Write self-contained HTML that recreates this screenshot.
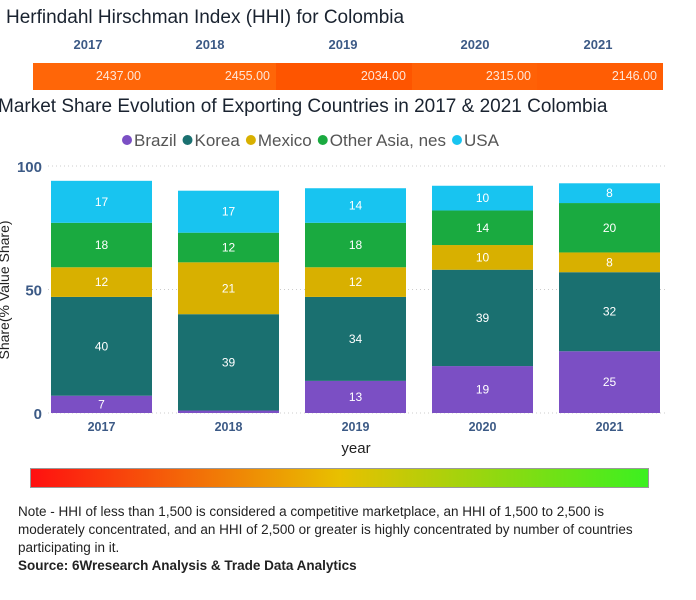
<!DOCTYPE html>
<html><head><meta charset="utf-8"><style>
body{margin:0;width:696px;height:600px;background:#fff;font-family:"Liberation Sans",sans-serif;overflow:hidden;position:relative}
.abs{position:absolute}
.yr{position:absolute;top:37px;font-size:13px;font-weight:bold;color:#3c5a86;transform:translateX(-50%)}
.seg{position:absolute;top:63px;height:27px;color:#fde6d8;font-size:12.5px;line-height:27px;text-align:right;box-sizing:border-box;padding-right:6px}
.note{left:18px;top:503px;width:650px;font-size:13.5px;line-height:18px;color:#222}
</style></head><body>
<div class="abs" style="left:6px;top:7px;font-size:19px;color:#1a2330">Herfindahl Hirschman Index (HHI) for Colombia</div>
<div class="yr" style="left:88px">2017</div>
<div class="yr" style="left:210px">2018</div>
<div class="yr" style="left:343px">2019</div>
<div class="yr" style="left:475px">2020</div>
<div class="yr" style="left:598px">2021</div>
<div class="seg" style="left:33px;width:114px;background:#ff6608">2437.00</div>
<div class="seg" style="left:147px;width:129px;background:#ff6608">2455.00</div>
<div class="seg" style="left:276px;width:136px;background:#fe5500">2034.00</div>
<div class="seg" style="left:412px;width:125px;background:#ff6106">2315.00</div>
<div class="seg" style="left:537px;width:126px;background:#ff5d04">2146.00</div>
<div class="abs" style="left:-2px;top:96px;font-size:19px;color:#1a2330">Market Share Evolution of Exporting Countries in 2017 &amp; 2021 Colombia</div>
<svg class="abs" style="left:0;top:0" width="696" height="460" id="chart"></svg>
<div class="abs" style="left:30px;top:468px;width:619px;height:20px;border:1px solid #999;box-sizing:border-box;background:linear-gradient(to right,#ff1010,#e8c000 50%,#3cf020)"></div>
<div class="abs note">Note - HHI of less than 1,500 is considered a competitive marketplace, an HHI of 1,500 to 2,500 is moderately concentrated, and an HHI of 2,500 or greater is highly concentrated by number of countries participating in it.<br><b>Source: 6Wresearch Analysis &amp; Trade Data Analytics</b></div>
<script>
const years=["2017","2018","2019","2020","2021"];
const seriesNames=["Brazil","Korea","Mexico","Other Asia, nes","USA"];
const brazil=[7,1,13,19,25];
const korea=[40,39,34,39,32];
const mexico=[12,21,12,10,8];
const otherAsia=[18,12,18,14,20];
const usa=[17,17,14,10,8];
const yTicks=[0,50,100];
const colors=["#7b4fc4","#1a7070","#d8b000","#1aaa40","#18c4f0"];
const series=[brazil,korea,mexico,otherAsia,usa];
const NS="http://www.w3.org/2000/svg";
const svg=document.getElementById('chart');
const y0=413,y1=166,xL=40,step=127,bw=101,x0=51;
const ys=v=>y0-(y0-y1)*v/100;
const xs=i=>x0+i*step;
function mk(t,a,txt){const e=document.createElementNS(NS,t);for(const k in a)e.setAttribute(k,a[k]);if(txt!=null)e.textContent=txt;svg.appendChild(e);return e;}
yTicks.forEach(t=>{
 const g=mk('line',{x1:xL+8,x2:665,y1:ys(t),y2:ys(t),stroke:'#ccc','stroke-dasharray':'1,3'});
 
 
 const l=mk('text',{x:42,y:ys(t)+6,'text-anchor':'end','font-size':15,'font-weight':'bold',fill:'#3c5a86'},t);
 
 
});
years.forEach((yr,i)=>{
 let c=0;
 series.forEach((s,j)=>{
  const v=s[i];
  const r=mk('rect',{x:xs(i),y:ys(c+v),width:bw,height:ys(c)-ys(c+v),fill:colors[j]});
  
  
  if(v>=5){const t=mk('text',{x:xs(i)+bw/2,y:(ys(c)+ys(c+v))/2+4,'text-anchor':'middle','font-size':12,fill:'#fff'},v);
   
   }
  c+=v;
 });
 const xl=mk('text',{x:xs(i)+bw/2,y:431,'text-anchor':'middle','font-size':12.5,'font-weight':'bold',fill:'#3c5a86'},yr);
 
 
});
const xt=mk('text',{x:356,y:453,'text-anchor':'middle','font-size':15,fill:'#222'},'year');


const yt=mk('text',{x:0,y:0,'text-anchor':'middle','font-size':14,fill:'#222',transform:'translate(9,290) rotate(-90)'},'Share(% Value Share)');


let lx=122;
seriesNames.forEach((n,j)=>{
 const c=mk('circle',{cx:lx+5,cy:140,r:5,fill:colors[j]});
 
 
 const t=mk('text',{x:lx+12,y:146,'font-size':17,fill:'#555'},n);
 
 
 lx+=12+t.getComputedTextLength()+6;
});
</script>
</body></html>
